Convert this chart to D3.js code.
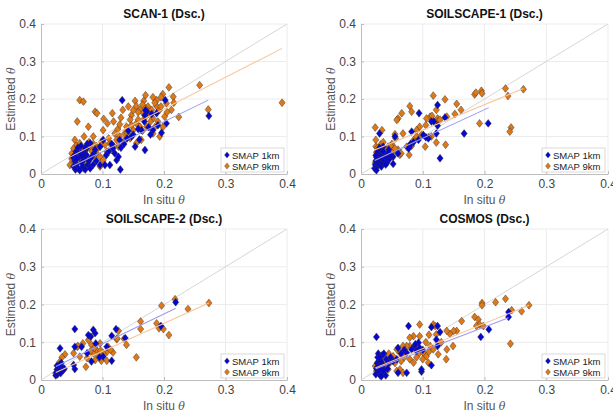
<!DOCTYPE html>
<meta charset="utf-8">
<style>
body { margin: 0; background: #fff; }
svg { font-family: Helvetica, Arial, "Liberation Sans", sans-serif; }
.axis path, .axis line { stroke: #bdbdbd; }
.axis text { fill: #444; font-size: 12px; }
.grid line { stroke: #ececec; stroke-width: 1; }
.title { font-size: 12px; font-weight: bold; fill: #111; }
.lab { font-size: 12px; fill: #555; }
.legend text { font-size: 9.5px; fill: #222; }
</style>
<svg width="613" height="412"></svg>
<script src="https://d3js.org/d3.v7.min.js"></script>
<script>

var ticks = [0, 0.1, 0.2, 0.3, 0.4];
var seriesNames = ["SMAP 1km", "SMAP 9km"];
var titles = ["SCAN-1 (Dsc.)", "SOILSCAPE-1 (Dsc.)", "SOILSCAPE-2 (Dsc.)", "COSMOS (Dsc.)"];

// in situ vs estimated soil moisture
var scan1Km1 = [[0.273,0.155],[0.132,0.197],[0.202,0.197],[0.188,0.162],[0.169,0.157],[0.172,0.166],[0.163,0.117],[0.182,0.117],[0.196,0.110],[0.204,0.135],[0.169,0.064],[0.153,0.073],[0.147,0.100],[0.128,0.091],[0.117,0.068],[0.129,0.012],[0.101,0.091],[0.096,0.073],[0.096,0.024],[0.104,0.024],[0.112,0.024],[0.123,0.037],[0.126,0.046],[0.080,0.082],[0.074,0.068],
  [0.052,0.045],[0.055,0.035],[0.058,0.025],[0.060,0.015],[0.062,0.045],[0.064,0.055],[0.066,0.030],[0.068,0.020],[0.070,0.040],[0.072,0.012],[0.074,0.050],[0.076,0.025],[0.078,0.035],[0.080,0.015],[0.082,0.045],[0.085,0.025],[0.057,0.060],[0.053,0.020],[0.056,0.012],[0.060,0.070],[0.065,0.075],[0.070,0.060],[0.075,0.080],[0.086,0.055],[0.090,0.035],[0.055,0.050],[0.063,0.010],[0.058,0.040],[0.067,0.050],[0.072,0.070],
  [0.110,0.060],[0.120,0.055],[0.135,0.080],[0.140,0.095],[0.150,0.105],[0.158,0.120],[0.168,0.140],[0.175,0.125],[0.190,0.130],[0.178,0.105],[0.160,0.092],[0.142,0.115],[0.130,0.070],[0.115,0.080],[0.106,0.050],[0.088,0.065],[0.180,0.160],[0.170,0.170]];
var scan1Km9 = [[0.392,0.190],[0.258,0.237],[0.272,0.172],[0.224,0.152],[0.208,0.231],[0.198,0.213],[0.188,0.197],[0.167,0.195],[0.133,0.171],[0.116,0.162],[0.102,0.147],[0.063,0.197],[0.069,0.193],[0.088,0.166],[0.091,0.162],[0.059,0.140],[0.077,0.126],[0.101,0.117],[0.108,0.135],[0.085,0.100],[0.070,0.100],[0.142,0.180],[0.153,0.195],[0.155,0.181],[0.147,0.157],[0.161,0.171],[0.166,0.162],[0.174,0.180],[0.180,0.171],[0.188,0.181],[0.193,0.171],[0.201,0.153],[0.182,0.148],[0.204,0.188],[0.215,0.206],[0.212,0.171],[0.172,0.126],[0.161,0.126],[0.150,0.117],[0.155,0.135],[0.139,0.126],[0.136,0.108],[0.128,0.100],[0.123,0.091],[0.120,0.108],[0.112,0.082],[0.126,0.073],[0.145,0.095],[0.155,0.082],[0.163,0.091],[0.182,0.108],[0.193,0.100],[0.096,0.073],[0.090,0.055],[0.080,0.068],[0.071,0.060],[0.063,0.082],[0.055,0.091],[0.050,0.055],[0.047,0.024],[0.052,0.042],[0.066,0.046],[0.085,0.046],[0.096,0.046],[0.101,0.037],[0.107,0.060],[0.115,0.064],[0.080,0.020],[0.069,0.015],[0.096,0.020],[0.074,0.028],
  [0.165,0.185],[0.170,0.175],[0.158,0.165],[0.175,0.160],[0.185,0.190],[0.195,0.205],[0.150,0.170],[0.178,0.140],[0.168,0.148],[0.190,0.140],[0.205,0.165],[0.145,0.145],[0.130,0.150],[0.125,0.120],[0.110,0.095],[0.098,0.085],[0.090,0.075],[0.085,0.080],[0.078,0.085],[0.075,0.072],[0.068,0.070],[0.060,0.065],[0.057,0.075],[0.053,0.068],[0.058,0.050],[0.062,0.038],[0.055,0.030],[0.050,0.040],[0.065,0.058],[0.073,0.052],[0.083,0.060],[0.092,0.068],[0.104,0.078],[0.118,0.075],[0.135,0.088],[0.140,0.110],[0.128,0.132],[0.118,0.140],[0.147,0.130],[0.158,0.145],[0.165,0.115],[0.185,0.125],[0.198,0.125],[0.216,0.190],[0.195,0.180],[0.182,0.205],[0.170,0.210]];

var soil1Km1 = [[0.206,0.135],[0.167,0.108],[0.128,0.042],[0.124,0.184],[0.136,0.151],[0.124,0.129],[0.122,0.108],[0.114,0.140],[0.109,0.095],[0.101,0.104],[0.094,0.162],[0.093,0.091],[0.082,0.113],[0.079,0.073],[0.077,0.068],[0.055,0.100],[0.052,0.027],[0.052,0.046],[0.036,0.073],[0.030,0.108],[0.118,0.140],[0.105,0.098],[0.080,0.080],[0.085,0.085],
  [0.022,0.015],[0.023,0.025],[0.024,0.035],[0.025,0.045],[0.026,0.020],[0.027,0.030],[0.028,0.040],[0.029,0.055],[0.030,0.025],[0.031,0.035],[0.032,0.045],[0.033,0.020],[0.034,0.030],[0.035,0.040],[0.037,0.050],[0.038,0.035],[0.040,0.045],[0.042,0.030],[0.044,0.055],[0.046,0.040],[0.025,0.010],[0.027,0.060],[0.033,0.065],[0.040,0.025],[0.048,0.050],[0.036,0.060],[0.030,0.070],[0.024,0.050],[0.045,0.065],[0.060,0.055]];
var soil1Km9 = [[0.263,0.226],[0.234,0.228],[0.238,0.208],[0.243,0.124],[0.241,0.113],[0.195,0.222],[0.196,0.215],[0.184,0.212],[0.186,0.217],[0.192,0.135],[0.162,0.171],[0.155,0.187],[0.152,0.160],[0.136,0.199],[0.137,0.078],[0.117,0.209],[0.122,0.171],[0.124,0.148],[0.122,0.084],[0.112,0.153],[0.106,0.148],[0.114,0.100],[0.104,0.073],[0.095,0.126],[0.090,0.117],[0.079,0.181],[0.082,0.166],[0.078,0.051],[0.074,0.073],[0.066,0.162],[0.060,0.148],[0.058,0.144],[0.055,0.106],[0.056,0.095],[0.063,0.051],[0.068,0.108],[0.050,0.080],[0.044,0.073],[0.034,0.117],[0.032,0.079],[0.023,0.124],[0.024,0.091],[0.024,0.073],[0.139,0.153],[0.124,0.140],[0.110,0.098],[0.098,0.105],[0.105,0.130],[0.090,0.100],[0.085,0.090],[0.082,0.075],[0.060,0.065],[0.058,0.058],[0.050,0.062],[0.045,0.050],[0.040,0.065],[0.038,0.045],[0.035,0.055],[0.030,0.060],[0.028,0.050],[0.026,0.040],[0.025,0.058],[0.023,0.030],[0.027,0.070],[0.032,0.035],[0.036,0.085],[0.042,0.040],[0.048,0.075],[0.055,0.068],[0.065,0.055],[0.115,0.155],[0.128,0.145]];

var soil2Km1 = [[0.219,0.206],[0.195,0.143],[0.137,0.111],[0.122,0.135],[0.115,0.117],[0.115,0.051],[0.107,0.088],[0.101,0.062],[0.095,0.060],[0.089,0.097],[0.088,0.124],[0.085,0.133],[0.081,0.115],[0.077,0.119],[0.082,0.049],[0.075,0.071],[0.066,0.088],[0.055,0.135],[0.055,0.088],[0.055,0.029],[0.053,0.040],[0.031,0.084],
  [0.024,0.012],[0.025,0.020],[0.026,0.028],[0.027,0.015],[0.028,0.035],[0.029,0.024],[0.030,0.040],[0.031,0.030],[0.032,0.018],[0.033,0.045],[0.034,0.034],[0.036,0.026],[0.038,0.030],[0.026,0.038]];
var soil2Km9 = [[0.273,0.204],[0.239,0.188],[0.218,0.214],[0.196,0.197],[0.188,0.150],[0.192,0.137],[0.199,0.135],[0.208,0.119],[0.162,0.155],[0.162,0.135],[0.155,0.060],[0.139,0.093],[0.135,0.109],[0.126,0.130],[0.123,0.108],[0.117,0.073],[0.109,0.088],[0.107,0.074],[0.107,0.051],[0.101,0.071],[0.098,0.051],[0.096,0.097],[0.093,0.066],[0.090,0.080],[0.088,0.053],[0.085,0.071],[0.082,0.093],[0.080,0.075],[0.077,0.106],[0.075,0.058],[0.073,0.035],[0.068,0.097],[0.063,0.062],[0.059,0.088],[0.053,0.071],[0.039,0.068],[0.034,0.060],[0.031,0.049],[0.036,0.031],[0.028,0.027],[0.024,0.018],[0.124,0.110],[0.113,0.080],[0.097,0.078],[0.087,0.085],[0.060,0.090]];

var cosmosKm1 = [[0.239,0.180],[0.239,0.167],[0.207,0.134],[0.194,0.114],[0.124,0.143],[0.128,0.127],[0.122,0.107],[0.124,0.090],[0.114,0.140],[0.114,0.039],[0.098,0.022],[0.098,0.028],[0.077,0.143],[0.093,0.099],[0.087,0.090],[0.082,0.081],[0.090,0.077],[0.074,0.072],[0.074,0.019],[0.060,0.085],[0.060,0.019],[0.052,0.050],[0.025,0.114],[0.095,0.085],[0.088,0.095],[0.100,0.080],[0.070,0.080],[0.065,0.070],[0.058,0.055],
  [0.024,0.015],[0.025,0.030],[0.026,0.045],[0.027,0.060],[0.028,0.070],[0.029,0.022],[0.030,0.038],[0.031,0.012],[0.032,0.050],[0.033,0.028],[0.034,0.065],[0.035,0.018],[0.036,0.040],[0.037,0.070],[0.038,0.025],[0.040,0.012],[0.041,0.055],[0.043,0.030],[0.045,0.045],[0.030,0.060],[0.027,0.035],[0.033,0.010],[0.048,0.060]];
var cosmosKm9 = [[0.272,0.198],[0.260,0.182],[0.244,0.185],[0.242,0.096],[0.234,0.215],[0.218,0.206],[0.196,0.204],[0.196,0.198],[0.184,0.167],[0.190,0.160],[0.192,0.147],[0.187,0.143],[0.198,0.143],[0.163,0.156],[0.155,0.130],[0.144,0.122],[0.139,0.130],[0.139,0.081],[0.138,0.055],[0.149,0.090],[0.122,0.121],[0.117,0.147],[0.120,0.143],[0.095,0.147],[0.095,0.116],[0.085,0.116],[0.079,0.112],[0.079,0.090],[0.074,0.090],[0.068,0.090],[0.063,0.072],[0.058,0.081],[0.052,0.063],[0.047,0.046],[0.044,0.028],[0.036,0.046],[0.023,0.037],[0.025,0.024],[0.079,0.055],[0.085,0.046],[0.093,0.068],[0.101,0.072],[0.106,0.063],[0.109,0.046],[0.117,0.081],[0.112,0.090],[0.125,0.068],[0.063,0.028],[0.068,0.019],[0.058,0.024],
  [0.105,0.100],[0.110,0.075],[0.100,0.055],[0.090,0.060],[0.070,0.060],[0.065,0.050],[0.055,0.045],[0.040,0.035],[0.030,0.050],[0.028,0.020],[0.035,0.065],[0.045,0.070],[0.110,0.120],[0.130,0.100],[0.150,0.130]];

// fitted lines, [x0, y0, x1, y1]
var scan1Fit1 = [0.050, 0.020, 0.272, 0.197];
var scan1Fit9 = [0.047, 0.045, 0.392, 0.335];
var soil1Fit1 = [0.022, 0.036, 0.207, 0.177];
var soil1Fit9 = [0.022, 0.064, 0.263, 0.228];
var soil2Fit1 = [0.024, 0.036, 0.219, 0.190];
var soil2Fit9 = [0.024, 0.020, 0.273, 0.204];
var cosmosFit1 = [0.024, 0.030, 0.239, 0.165];
var cosmosFit9 = [0.023, 0.032, 0.272, 0.198];

var panels = [
  {title: titles[0], k1: scan1Km1, k9: scan1Km9, f1: scan1Fit1, f9: scan1Fit9, left: 41, right: 287, top: 24, bottom: 174},
  {title: titles[1], k1: soil1Km1, k9: soil1Km9, f1: soil1Fit1, f9: soil1Fit9, left: 361, right: 608, top: 24, bottom: 174},
  {title: titles[2], k1: soil2Km1, k9: soil2Km9, f1: soil2Fit1, f9: soil2Fit9, left: 41, right: 287, top: 229, bottom: 380},
  {title: titles[3], k1: cosmosKm1, k9: cosmosKm9, f1: cosmosFit1, f9: cosmosFit9, left: 361, right: 608, top: 229, bottom: 380}
];

var blue = "#0606d2", orange = "#e07816";
var diamond = "M0,-3.9L3.1,0L0,3.9L-3.1,0Z";
var fmt = function(d) { return d === 0 ? "0" : d3.format(".1f")(d); };

var svg = d3.select("svg");

panels.forEach(function(p) {
  var x = d3.scaleLinear().domain([0, 0.4]).range([p.left, p.right]);
  var y = d3.scaleLinear().domain([0, 0.4]).range([p.bottom, p.top]);
  var g = svg.append("g");

  // grid
  var grid = g.append("g").attr("class", "grid");
  grid.selectAll(".gx").data(ticks.slice(1)).enter().append("line")
    .attr("x1", function(d) { return x(d); }).attr("x2", function(d) { return x(d); })
    .attr("y1", p.top).attr("y2", p.bottom);
  grid.selectAll(".gy").data(ticks.slice(1)).enter().append("line")
    .attr("y1", function(d) { return y(d); }).attr("y2", function(d) { return y(d); })
    .attr("x1", p.left).attr("x2", p.right);

  g.append("g").attr("class", "axis")
    .attr("transform", "translate(0," + p.bottom + ")")
    .call(d3.axisBottom(x).tickValues(ticks).tickFormat(fmt).tickSizeInner(-3).tickSizeOuter(0).tickPadding(5))
    .call(function(a) { a.attr("font-family", null).attr("font-size", null); });
  g.append("g").attr("class", "axis")
    .attr("transform", "translate(" + p.left + ",0)")
    .call(d3.axisLeft(y).tickValues(ticks).tickFormat(fmt).tickSizeInner(-3).tickSizeOuter(0).tickPadding(5))
    .call(function(a) { a.attr("font-family", null).attr("font-size", null); });

  // 1:1 line
  g.append("line").attr("x1", x(0)).attr("y1", y(0)).attr("x2", x(0.4)).attr("y2", y(0.4))
    .attr("stroke", "#d6d6d6").attr("stroke-width", 1);

  // points: 9km below, 1km on top
  [[p.k9, orange], [p.k1, blue]].forEach(function(s) {
    g.append("g").selectAll("path").data(s[0]).enter().append("path")
      .attr("d", diamond)
      .attr("transform", function(d) { return "translate(" + x(d[0]) + "," + y(d[1]) + ")"; })
      .attr("fill", s[1]).attr("stroke", "#333").attr("stroke-width", 0.45);
  });

  // fits
  [[p.f1, "#9c9cf4"], [p.f9, "#f8c69a"]].forEach(function(f) {
    g.append("line")
      .attr("x1", x(f[0][0])).attr("y1", y(f[0][1])).attr("x2", x(f[0][2])).attr("y2", y(f[0][3]))
      .attr("stroke", f[1]).attr("stroke-width", 1.1);
  });

  g.append("text").attr("class", "title")
    .attr("x", (p.left + p.right) / 2).attr("y", p.top - 6)
    .attr("text-anchor", "middle").text(p.title);

  var xl = g.append("text").attr("class", "lab")
    .attr("x", (p.left + p.right) / 2).attr("y", p.bottom + 30).attr("text-anchor", "middle");
  xl.append("tspan").text("In situ ");
  xl.append("tspan").attr("font-style", "italic").attr("font-family", "'DejaVu Serif', serif").attr("font-size", 11).text("θ");

  var yl = g.append("text").attr("class", "lab")
    .attr("transform", "translate(" + (p.left - 26) + "," + ((p.top + p.bottom) / 2) + ") rotate(-90)")
    .attr("text-anchor", "middle");
  yl.append("tspan").text("Estimated ");
  yl.append("tspan").attr("font-style", "italic").attr("font-family", "'DejaVu Serif', serif").attr("font-size", 11).text("θ");

  // legend
  var lw = 63, lh = 24;
  var lg = g.append("g").attr("class", "legend")
    .attr("transform", "translate(" + (p.right - 3 - lw) + "," + (p.bottom - 2 - lh) + ")");
  lg.append("rect").attr("width", lw).attr("height", lh)
    .attr("fill", "#fff").attr("stroke", "#cfcfcf").attr("stroke-width", 0.8);
  seriesNames.forEach(function(n, i) {
    lg.append("path").attr("d", diamond)
      .attr("transform", "translate(6," + (7 + i * 11) + ") scale(0.8)")
      .attr("fill", i === 0 ? blue : orange).attr("stroke", "#333").attr("stroke-width", 0.4);
    lg.append("text").attr("x", 11).attr("y", 10.5 + i * 11).text(n);
  });
});

</script>
